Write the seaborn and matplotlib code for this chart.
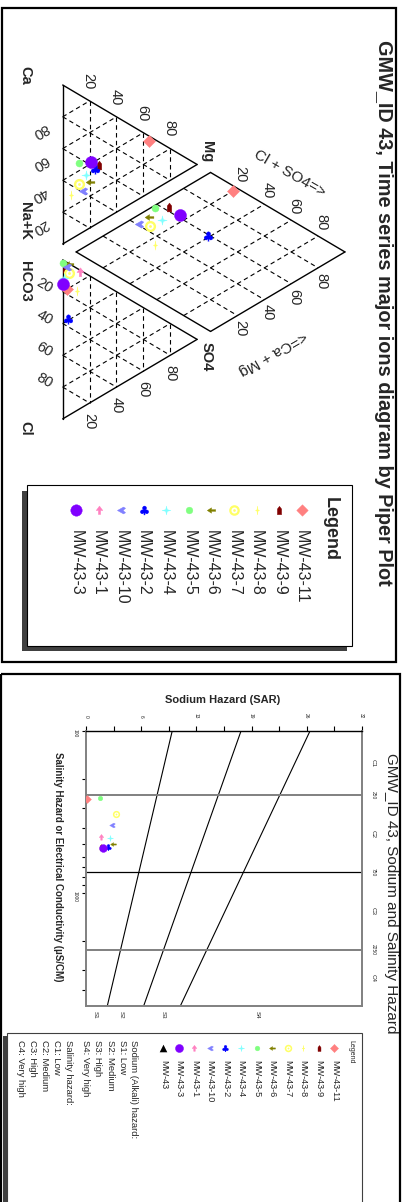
import numpy as np
import matplotlib
matplotlib.use('Agg')
import matplotlib.pyplot as plt
import seaborn as sns
from matplotlib.markers import MarkerStyle
from matplotlib.path import Path
from matplotlib.patches import Rectangle
from matplotlib.transforms import blended_transform_factory

sns.set_theme(style='white')
plt.rcParams['font.family'] = ['Liberation Sans', 'DejaVu Sans']

# ---------------- data ----------------
wells = ['MW-43-11', 'MW-43-9', 'MW-43-8', 'MW-43-7', 'MW-43-6', 'MW-43-5',
         'MW-43-4', 'MW-43-2', 'MW-43-10', 'MW-43-1', 'MW-43-3']
colors = ['#FF8080', '#800000', '#FFFF66', '#FFFF66', '#808000', '#80FF80',
          '#80FFFF', '#0000FF', '#8080FF', '#FF80C0', '#8000FF']
# cations (% meq)
ca = [33, 36, 28, 32, 29, 45, 35, 35, 26, 41, 41]
mg = [64, 27, 6, 12, 20, 12, 17, 24, 15, 21, 21]
nak = [3, 37, 66, 56, 51, 43, 48, 41, 59, 38, 38]
# anions (% meq)
hco3 = [80, 94, 75, 89, 95, 98, 88, 61, 94, 86, 85]
so4 = [3, 2, 11, 5, 5, 0, 1, 4, 3, 13, 0]
cl = [17, 4, 14, 6, 0, 2, 11, 35, 3, 1, 15]
# Wilcox diagram
sar = [0.05, 1.71, 1.90, 3.43, 3.13, 1.59, 2.74, 2.56, 3.02, 1.67, 1.90]
ec = [266, 522, 530, 329, 500, 262, 459, 525, 383, 453, 530]
sar_ticks = [0, 6.4, 12.8, 19.2, 25.6, 32]
ec_classes = [100, 250, 750, 2250, 5000]
c_labels = ['C1', 'C2', 'C3', 'C4']
s_labels = ['S1', 'S2', 'S3', 'S4']
s_label_pos = [1.0, 4.1, 8.9, 19.9]
sar_line_a = [18.87, 31.31, 43.75]
sar_line_b = [4.44, 6.66, 8.87]
piper_ticks = [20, 40, 60, 80]
legend_notes = ['Sodium (Alkali) hazard:', 'S1: Low', 'S2: Medium', 'S3: High',
                'S4: Very high', 'Salinity hazard:', 'C1: Low', 'C2: Medium',
                'C3: High', 'C4: Very high']

# ---------------- marker styles ----------------
def pm(verts):
    verts = list(verts) + [verts[0]]
    codes = [Path.MOVETO] + [Path.LINETO] * (len(verts) - 2) + [Path.CLOSEPOLY]
    return MarkerStyle(Path(verts, codes))

markers = [
    'D',
    pm([(-0.5, -1), (0.5, -1), (0.5, 0.35), (0, 1), (-0.5, 0.35)]),
    pm([(0, 1), (0.12, 0.15), (0.45, 0), (0.12, -0.15), (0, -1), (-0.12, -0.15), (-0.45, 0), (-0.12, 0.15)]),
    'ring',
    pm([(-1, 0), (0, 0.65), (0, 0.2), (1, 0.2), (1, -0.2), (0, -0.2), (0, -0.65)]),
    'o',
    pm([(0, 1), (0.18, 0.18), (1, 0), (0.18, -0.18), (0, -1), (-0.18, -0.18), (-1, 0), (-0.18, 0.18)]),
    MarkerStyle(r'$\clubsuit$'),
    pm([(-1, 0), (0.5, 0.85), (1, 0.55), (0.4, 0), (1, -0.55), (0.5, -0.85)]),
    pm([(0, 1), (0.75, 0), (0.25, 0), (0.25, -0.9), (-0.25, -0.9), (-0.25, 0), (-0.75, 0)]),
    'o',
]
sizes = [38, 40, 45, 40, 40, 26, 45, 45, 38, 45, 75]


def mark(ax, x, y, i, scale, z=5):
    x = np.atleast_1d(x)
    y = np.atleast_1d(y)
    if markers[i] == 'ring':
        sns.scatterplot(x=x, y=y, ax=ax, s=sizes[i] * scale, marker='o', color='white',
                        edgecolor=colors[i], linewidth=1.7 * np.sqrt(scale), zorder=z)
        sns.scatterplot(x=x, y=y, ax=ax, s=4 * scale, marker='o', color=colors[i],
                        edgecolor=colors[i], linewidth=0, zorder=z + 0.1)
    else:
        sns.scatterplot(x=x, y=y, ax=ax, s=sizes[i] * scale, marker=markers[i],
                        color=colors[i], edgecolor=colors[i], linewidth=0.3, zorder=z)


# ---------------- figure ----------------
fig = plt.figure(figsize=(4.05, 12.02), dpi=100)
ax = fig.add_axes([0, 0, 1, 1])
ax.set_xlim(0, 405)
ax.set_ylim(1202, 0)
ax.axis('off')

# panel frames
ax.add_patch(Rectangle((2, 8), 394, 654, fill=False, lw=1.6, ec='black', zorder=1))
ax.add_patch(Rectangle((1, 674), 399, 560, fill=False, lw=1.6, ec='black', zorder=1))

# ---------------- Piper plot ----------------
X0, Y0 = 62.7, 85.0
SU, SV = 159.0, 155.2
G = 0.1
H = np.sqrt(3) / 2


def px(u, v):
    return X0 + SV * np.asarray(v, float), Y0 + SU * np.asarray(u, float)


def seg(p, q, **kw):
    x, y = px([p[0], q[0]], [p[1], q[1]])
    ax.plot(x, y, **kw)


solid = dict(color='black', lw=1.0, zorder=2)
dash = dict(color='black', lw=0.8, ls=(0, (4, 3)), zorder=2)

for off in (0.0, 1 + G):
    A, Bv, Cv = (off, 0), (off + 1, 0), (off + 0.5, H)
    for p, q in ((A, Bv), (Bv, Cv), (Cv, A)):
        seg(p, q, **solid)
    for f in np.array(piper_ticks) / 100:
        seg((off + 0.5 * f, H * f), (off + 1 - 0.5 * f, H * f), **dash)
        seg((off + f, 0), (off + f + 0.5 * (1 - f), H * (1 - f)), **dash)
        seg((off + 1 - f, 0), (off + 0.5 * (1 - f), H * (1 - f)), **dash)

DB = (1 + G / 2, G * H)
DL = (DB[0] - 0.5, DB[1] + H)
DR = (DB[0] + 0.5, DB[1] + H)
DT = (DB[0], DB[1] + 2 * H)
for p, q in ((DB, DL), (DL, DT), (DT, DR), (DR, DB)):
    seg(p, q, **solid)
for f in np.array(piper_ticks) / 100:
    p = (DB[0] - 0.5 * f, DB[1] + H * f)
    seg(p, (p[0] + 0.5, p[1] + H), **dash)
    p = (DB[0] + 0.5 * f, DB[1] + H * f)
    seg(p, (p[0] - 0.5, p[1] + H), **dash)

# axis labels of the Piper diagram
lab = dict(rotation=-90, ha='center', va='center', fontsize=10.5, fontweight='bold')
ax.text(25, 75, 'Ca', **lab)
ax.text(25, 221, 'Na+K', **lab)
ax.text(207, 152, 'Mg', **lab)
ax.text(25, 281, 'HCO3', **lab)
ax.text(25, 428, 'Cl', **lab)
ax.text(207, 357, 'SO4', **lab)
ax.text(290, 174, 'Cl + SO4=>', rotation=-30, ha='center', va='center', fontsize=11)
ax.text(273, 353, '<=Ca + Mg', rotation=210, ha='center', va='center', fontsize=11)

tk = dict(ha='center', va='center', fontsize=10.5)
for t in piper_ticks:
    f = t / 100
    # Mg along Ca-Mg side
    x, y = px(0.5 * f, H * f)
    ax.text(x - 1, y - 20, str(t), rotation=-90, **tk)
    # Ca along base
    x, y = px(1 - f, 0)
    ax.text(x - 22.7, y + 14, str(t), rotation=210, **tk)
    # Cl along anion base
    x, y = px(1 + G + f, 0)
    ax.text(x - 18, y - 6, str(t), rotation=-30, **tk)
    # SO4 along Cl-SO4 side
    x, y = px(2 + G - 0.5 * f, H * f)
    ax.text(x, y + 18, str(t), rotation=-90, **tk)
    # Cl+SO4 along upper-left diamond side
    x, y = px(DL[0] + 0.5 * f, DL[1] + H * f)
    ax.text(x + 3, y - 14, str(t), rotation=-90, **tk)
    # Ca+Mg along upper-right diamond side
    x, y = px(DR[0] - 0.5 * f, DR[1] + H * f)
    ax.text(x + 3, y + 13, str(t), rotation=-90, **tk)

ax.text(383, 313, 'GMW_ID 43, Time series major ions diagram by Piper Plot',
        rotation=-90, ha='center', va='center', fontsize=14.3, fontweight='bold')

for i in range(len(wells)):
    c, m_, n = ca[i] / 100, mg[i] / 100, nak[i] / 100
    h, s_, l = hco3[i] / 100, so4[i] / 100, cl[i] / 100
    xc, yc = px(n + 0.5 * m_, H * m_)
    xa, ya = px(1 + G + l + 0.5 * s_, H * s_)
    cm, cs = c + m_, l + s_
    xd, yd = px(DB[0] - 0.5 * cm + 0.5 * cs, DB[1] + H * (cm + cs))
    mark(ax, [xc, xa, xd], [yc, ya, yd], i, 1.0, z=5 + i * 0.01)

# Piper legend
ax.add_patch(Rectangle((22, 491), 324.7, 160, fc='#404040', ec='none', zorder=3))
ax.add_patch(Rectangle((26.7, 485), 325, 160.7, fc='white', ec='black', lw=0.8, zorder=3.5))
ax.text(330, 497, 'Legend', rotation=-90, ha='center', va='top', fontsize=13,
        fontweight='bold', zorder=6)
for i, w in enumerate(wells):
    xk = 301.7 - i * 22.57
    mark(ax, xk, 510, i, 0.9, z=6)
    ax.text(xk, 530, w, rotation=-90, ha='center', va='top', fontsize=11.5, zorder=6)

# ---------------- Wilcox (SAR) diagram ----------------
L, R, T, Bt = 86.3, 361.7, 730.7, 1005.7
axw = fig.add_axes([L / 405, 1 - Bt / 1202, (R - L) / 405, (Bt - T) / 1202])
axw.set_xlim(sar_ticks[0], sar_ticks[-1])
axw.set_yscale('log')
axw.set_ylim(ec_classes[-1], ec_classes[0])
axw.set_facecolor('white')
axw.grid(False)

axw.xaxis.tick_top()
axw.set_xticks(sar_ticks)
axw.set_xticklabels([f'{t:.0f}' for t in sar_ticks])
axw.set_xticks(np.array(sar_ticks[:-1]) + 3.2, minor=True)
axw.tick_params(axis='x', which='both', direction='out', top=True, bottom=False,
                labeltop=True, labelbottom=False, labelrotation=-90, labelsize=3.5,
                color='black', width=0.8, pad=7)
axw.tick_params(axis='x', which='major', length=3.5)
axw.tick_params(axis='x', which='minor', length=3.5)
for t in axw.get_xticklabels():
    t.set_va('center')

axw.set_yticks([100, 1000])
axw.set_yticklabels(['100', '1000'])
axw.set_yticks([200, 300, 400, 500, 600, 700, 800, 900, 2000, 3000, 4000], minor=True)
axw.yaxis.set_minor_formatter(matplotlib.ticker.NullFormatter())
axw.tick_params(axis='y', which='both', direction='out', left=True, right=False,
                labelrotation=-90, labelsize=3.5, color='black', width=0.8,
                length=3, pad=5)
for t in axw.get_yticklabels():
    t.set_ha('center')

for side in ('left', 'right', 'bottom'):
    axw.spines[side].set_color('#808080')
    axw.spines[side].set_linewidth(1.4)
axw.spines['top'].set_color('black')
axw.spines['top'].set_linewidth(1.0)

ec_line = np.geomspace(ec_classes[0], ec_classes[-1], 50)
for a, b in zip(sar_line_a, sar_line_b):
    axw.plot(a - b * np.log10(ec_line), ec_line, color='black', lw=0.8, zorder=2)
for j, e in enumerate(ec_classes[1:-1]):
    axw.axhline(e, color='#808080' if j != 1 else 'black', lw=1.4 if j != 1 else 0.9, zorder=2)

bt = blended_transform_factory(axw.transAxes, axw.transData)
for j in range(4):
    mid = np.sqrt(ec_classes[j] * ec_classes[j + 1])
    axw.text(1.042, mid, c_labels[j], transform=bt, rotation=-90, ha='center',
             va='center', fontsize=4.5, clip_on=False)
for e in ec_classes[1:-1]:
    axw.text(1.042, e, str(e), transform=bt, rotation=-90, ha='center',
             va='center', fontsize=3.5, clip_on=False)
bt2 = blended_transform_factory(axw.transData, axw.transAxes)
for lbl, p in zip(s_labels, s_label_pos):
    axw.text(p, -0.034, lbl, transform=bt2, rotation=-90, ha='center', va='center',
             fontsize=4.5, clip_on=False)

for i in range(len(wells)):
    mark(axw, sar[i], ec[i], i, 0.42, z=5 + i * 0.01)
axw.set_xlabel('')
axw.set_ylabel('')

ax.text(223, 700, 'Sodium Hazard (SAR)', ha='center', va='center', fontsize=8,
        fontweight='bold')
ax.text(58, 867, 'Salinity Hazard or Electrical Conductivity (µS/CM)', rotation=-90,
        ha='center', va='center', fontsize=7, fontweight='bold')
ax.text(391, 893, 'GMW_ID 43, Sodium and Salinity Hazard', rotation=-90,
        ha='center', va='center', fontsize=11)

# Wilcox legend
ax.add_patch(Rectangle((3, 1036), 10, 200, fc='#404040', ec='none', zorder=3))
ax.add_patch(Rectangle((7.3, 1032.7), 354.4, 200, fc='white', ec='#404040', lw=0.8, zorder=3.5))
ax.text(350.7, 1040, 'Legend', rotation=-90, ha='center', va='top', fontsize=5, zorder=6)
for i, w in enumerate(wells):
    xk = 334.3 - i * 15.55
    mark(ax, xk, 1048.3, i, 0.45, z=6)
    ax.text(xk, 1060, w, rotation=-90, ha='center', va='top', fontsize=6.6, zorder=6)
xk = 334.3 - len(wells) * 15.55
sns.scatterplot(x=[xk], y=[1048.3], ax=ax, marker='^', s=30, color='black',
                edgecolor='black', linewidth=0, zorder=6)
ax.text(xk, 1060, 'MW-43', rotation=-90, ha='center', va='top', fontsize=6.6, zorder=6)
note_x = [133.3, 122.3, 110, 97.7, 85.7, 68.3, 56, 44, 32.7, 20.7]
for xn, t in zip(note_x, legend_notes):
    ax.text(xn, 1040, t, rotation=-90, ha='center', va='top', fontsize=6.8, zorder=6)

ax.set_xlim(0, 405)
ax.set_ylim(1202, 0)
fig.savefig('out.png', dpi=100)
